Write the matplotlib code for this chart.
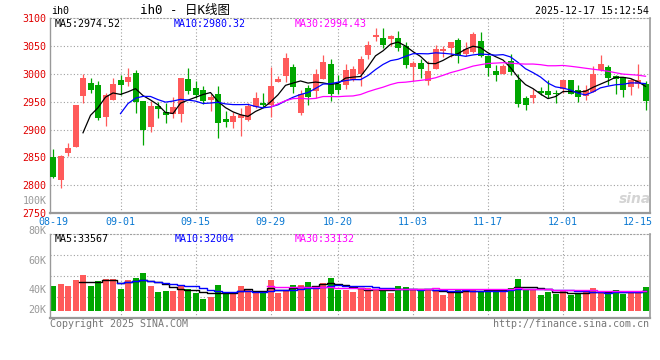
import matplotlib
matplotlib.use("Agg")
import matplotlib.pyplot as plt
import matplotlib.transforms as mtransforms
import numpy as np
import pandas as pd

# ---- data (IH0 daily K line, 2025-08-19 .. 2025-12-17)
opens = [2850.6, 2810.0, 2858.4, 2869.1, 2960.4, 2983.1, 2979.6, 2922.8, 2952.7, 2989.7,
         2984.9, 3001.0, 2950.9, 2904.3, 2942.5, 2932.4, 2927.6, 2927.6, 2990.3, 2974.2,
         2970.6, 2952.7, 2963.4, 2918.7, 2913.3, 2920.4, 2917.5, 2940.7, 2947.3, 2944.3,
         2985.5, 2996.3, 3011.8, 2929.4, 2974.2, 2968.8, 2990.3, 3017.2, 2981.3, 2979.6,
         2989.1, 2999.3, 3033.3, 3065.5, 3063.7, 3061.9, 3063.7, 3049.4, 3011.8, 3019.0,
         2986.7, 3008.2, 3040.4, 3045.8, 3060.1, 3035.1, 3038.7, 3058.4, 3031.5, 3004.6,
         2999.3, 3022.5, 2988.5, 2956.3, 2956.3, 2968.8, 2968.8, 2965.2, 2972.2, 2988.3,
         2970.4, 2959.6, 2966.8, 3006.3, 3011.7, 2995.5, 2993.7, 2975.8, 2981.1, 2981.1]
highs = [2864.9, 2854.2, 2875.7, 2944.0, 3000.4, 2992.0, 2986.7, 2965.2, 2992.0, 2997.5,
         3010.0, 3006.4, 2951.0, 2951.5, 2950.3, 2947.9, 2958.1, 2992.1, 3010.0, 2986.7,
         2977.8, 2964.6, 2977.8, 2933.0, 2931.8, 2938.4, 2947.3, 2967.0, 2965.2, 3011.8,
         2996.3, 3036.9, 3017.2, 2970.6, 2979.6, 3008.2, 3033.3, 3026.1, 2997.5, 3017.2,
         3013.6, 3031.5, 3058.4, 3081.6, 3081.6, 3069.1, 3076.3, 3056.6, 3022.5, 3026.1,
         3022.5, 3051.2, 3049.4, 3056.6, 3063.7, 3056.6, 3074.5, 3074.5, 3033.3, 3015.4,
         3017.2, 3035.1, 2999.3, 2959.9, 2972.4, 2976.0, 2988.5, 2970.6, 2988.3, 2988.3,
         2979.3, 2979.3, 3013.5, 3033.2, 3015.3, 2997.3, 2993.7, 2991.9, 3017.7, 2986.5]
lows = [2813.0, 2795.7, 2853.0, 2869.0, 2947.3, 2965.2, 2917.5, 2906.7, 2952.7, 2962.2,
        2978.4, 2930.0, 2872.7, 2896.0, 2920.4, 2911.5, 2920.4, 2913.3, 2964.6, 2957.5,
        2945.5, 2933.6, 2884.6, 2904.9, 2903.1, 2888.8, 2915.1, 2939.6, 2940.7, 2922.2,
        2985.5, 2985.5, 2965.2, 2925.8, 2943.7, 2956.9, 2990.3, 2950.9, 2963.4, 2972.4,
        2987.3, 2977.8, 3026.1, 3058.4, 3045.8, 3049.4, 3040.4, 3010.0, 2986.7, 2992.1,
        2979.6, 3008.2, 3029.7, 3030.0, 3019.0, 3031.5, 3036.9, 3029.7, 2995.7, 2986.7,
        2999.3, 2997.5, 2940.1, 2934.8, 2947.3, 2961.6, 2956.3, 2947.3, 2965.0, 2963.2,
        2948.8, 2952.4, 2966.8, 3004.5, 2979.3, 2963.2, 2957.8, 2961.4, 2974.6, 2936.0]
closes = [2814.8, 2853.0, 2866.7, 2943.7, 2993.3, 2971.2, 2921.0, 2961.6, 2981.3, 2980.2,
          2994.5, 2949.7, 2899.0, 2942.0, 2936.6, 2926.4, 2940.2, 2992.1, 2968.8, 2961.6,
          2951.5, 2958.1, 2912.1, 2913.3, 2924.0, 2925.8, 2943.1, 2956.3, 2944.3, 2977.8,
          2990.3, 3027.9, 2976.6, 2963.4, 2958.7, 2999.3, 3020.7, 2963.4, 2971.8, 3006.4,
          3008.2, 3026.1, 3051.2, 3069.1, 3051.2, 3067.3, 3045.8, 3015.4, 3019.0, 3008.2,
          3004.6, 3044.0, 3044.0, 3056.6, 3031.5, 3044.0, 3070.9, 3031.5, 3010.0, 2997.5,
          3013.6, 3002.8, 2945.5, 2943.7, 2961.6, 2965.2, 2961.6, 2964.0, 2988.3, 2963.2,
          2957.8, 2970.4, 2999.1, 3017.1, 2991.9, 2990.1, 2970.4, 2988.3, 2988.3, 2950.5]
volumes = [40900, 44200, 40900, 50900, 59200, 40900, 49200, 52500, 52500, 35900,
           50900, 54200, 62500, 40900, 31000, 32600, 32600, 40900, 35900, 29300,
           19400, 22700, 42600, 29300, 29300, 40900, 35900, 29300, 29300, 50900,
           29300, 32600, 42600, 42600, 47600, 40900, 45900, 54200, 34300, 34300,
           31000, 37600, 37600, 35900, 32600, 29300, 40900, 39300, 34300, 32600,
           34300, 34300, 26000, 29300, 34300, 35900, 34300, 31000, 35900, 35900,
           35900, 37600, 52500, 34300, 34300, 26000, 31000, 27700, 32600, 26000,
           27700, 31000, 37600, 31000, 27700, 34300, 27700, 32600, 32600, 39300]

date_tick_index = [0, 9, 19, 29, 38, 48, 58, 68, 78]
date_tick_labels = ["08-19", "09-01", "09-15", "09-29", "10-20", "11-03", "11-17", "12-01", "12-15"]
price_ticks = [2750, 2800, 2850, 2900, 2950, 3000, 3050, 3100]
volume_axis_labels = ["100K", "80K", "60K", "40K", "20K"]
price_ma_text = ["MA5:2974.52", "MA10:2980.32", "MA30:2994.43"]
volume_ma_text = ["MA5:33567", "MA10:32004", "MA30:33132"]

UP = "#ff5a5a"
DOWN = "#00a600"
GRID = "#a0a0a0"
MA_COLORS = ["#000000", "#0000ff", "#ff00ff"]
MONO = ["DejaVu Sans Mono", "Noto Sans CJK SC"]
FS = 7.2

W, H = 660, 360


def px(x, y):
    """Pixel position (from top-left) to figure fraction."""
    return x / W, 1 - y / H


def style_panel(ax):
    for side in ("left", "right", "bottom"):
        ax.spines[side].set_color("#999999")
    ax.spines["left"].set_linewidth(1.0)
    ax.spines["right"].set_linewidth(1.2)
    ax.spines["bottom"].set_linewidth(1.6)
    ax.spines["top"].set_color(GRID)
    ax.spines["top"].set_linestyle((0, (1, 2)))
    ax.spines["top"].set_linewidth(0.8)


o = np.array(opens)
h = np.array(highs)
l = np.array(lows)
c = np.array(closes)
v = np.array(volumes) / 1000.0
idx = np.arange(len(c))
colors = np.where(c >= o, UP, DOWN)

fig = plt.figure(figsize=(W / 100, H / 100), dpi=100)
fig.patch.set_facecolor("white")

# ---- price panel
ax = fig.add_axes([50 / W, 1 - 213.3 / H, 600 / W, (213.3 - 18) / H])
ax.set_xlim(-0.4, len(c) - 0.4)
ax.set_ylim(2750, 3100)
for yv in price_ticks[1:-1]:
    ax.axhline(yv, color=GRID, lw=0.8, ls=(0, (1, 2)), zorder=0)
for xi in date_tick_index[1:-1]:
    ax.axvline(xi, color=GRID, lw=0.8, ls=(0, (1, 2)), zorder=0)

ax.vlines(idx, l, h, colors=colors, lw=0.9, zorder=2)
body = np.maximum(np.abs(c - o), 1.0)
ax.bar(idx, body, bottom=np.minimum(o, c), width=0.8, color=colors,
       edgecolor="none", zorder=3)

close_s = pd.Series(c)
for win, col in zip((5, 10, 30), MA_COLORS):
    ax.plot(idx, close_s.rolling(win).mean(), color=col, lw=0.9, zorder=4)

ax.set_yticks(price_ticks)
ax.set_yticklabels([str(t) for t in price_ticks], color="#e00000",
                   fontsize=FS, family=MONO)
# labels sit a couple of pixels above their grid line in the original
lift = mtransforms.ScaledTranslation(0, 2 / 100, fig.dpi_scale_trans)
for lab in ax.get_yticklabels():
    lab.set_transform(lab.get_transform() + lift)
ax.set_xticks(date_tick_index)
ax.set_xticklabels(date_tick_labels, color="#0a78d2", fontsize=FS, family=MONO)
shift_left = mtransforms.ScaledTranslation(-3 / 100, 0, fig.dpi_scale_trans)
last = ax.get_xticklabels()[-1]
last.set_transform(last.get_transform() + shift_left)
ax.tick_params(length=0, pad=3)
style_panel(ax)

# ---- volume panel
vol_top, vol_bottom, vol_zero = 234.3, 318.0, 310.7
k_per_px = 1.66
vax = fig.add_axes([50 / W, 1 - vol_bottom / H, 600 / W, (vol_bottom - vol_top) / H])
vax.set_xlim(-0.4, len(c) - 0.4)
vlo = -(vol_bottom - vol_zero) * k_per_px
vhi = (vol_zero - vol_top) * k_per_px
vax.set_ylim(vlo, vhi)
for yv in np.linspace(vlo, vhi, 5)[1:-1]:
    vax.axhline(yv, color=GRID, lw=0.8, ls=(0, (1, 2)), zorder=0)
for xi in date_tick_index[1:-1]:
    vax.axvline(xi, color=GRID, lw=0.8, ls=(0, (1, 2)), zorder=0)
vax.bar(idx, v, width=0.8, color=colors, edgecolor="none", zorder=2)
vol_s = pd.Series(v)
for win, col in zip((5, 10, 30), MA_COLORS):
    vax.plot(idx, vol_s.rolling(win).mean(), color=col, lw=1.0,
             drawstyle="steps-mid", zorder=3)
vax.set_xticks([])
vax.set_yticks([])
style_panel(vax)

# ---- texts
fig.text(*px(51, 11.5), "ih0", fontsize=FS, family=MONO, va="center", ha="left")
fig.text(*px(185, 10.5), "ih0 - 日K线图", fontsize=9, family=MONO,
         va="center", ha="center")
fig.text(*px(649, 11.5), "2025-12-17 15:12:54", fontsize=FS, family=MONO,
         va="center", ha="right")

for txt, col, x0 in zip(price_ma_text, MA_COLORS, (55, 174, 295)):
    fig.text(*px(x0, 24), txt, color=col, fontsize=FS, family=MONO,
             va="center", ha="left")
for txt, col, x0 in zip(volume_ma_text, MA_COLORS, (55, 175, 295)):
    fig.text(*px(x0, 238.5), txt, color=col, fontsize=FS, family=MONO,
             va="center", ha="left")

for txt, y0 in zip(volume_axis_labels, (201, 230.7, 261, 290, 310)):
    fig.text(*px(46.5, y0), txt, color="#999999", fontsize=FS, family=MONO,
             va="center", ha="right")

fig.text(*px(50, 324), "Copyright 2025 SINA.COM", color="#777777",
         fontsize=FS, family=MONO, va="center", ha="left")
fig.text(*px(649, 324), "http://finance.sina.com.cn", color="#777777",
         fontsize=FS, family=MONO, va="center", ha="right")
fig.text(*px(635, 199), "sina", color="#d4d4d4", fontsize=10,
         style="italic", weight="bold", va="center", ha="center")

fig.savefig("out.png", dpi=100, facecolor="white")
